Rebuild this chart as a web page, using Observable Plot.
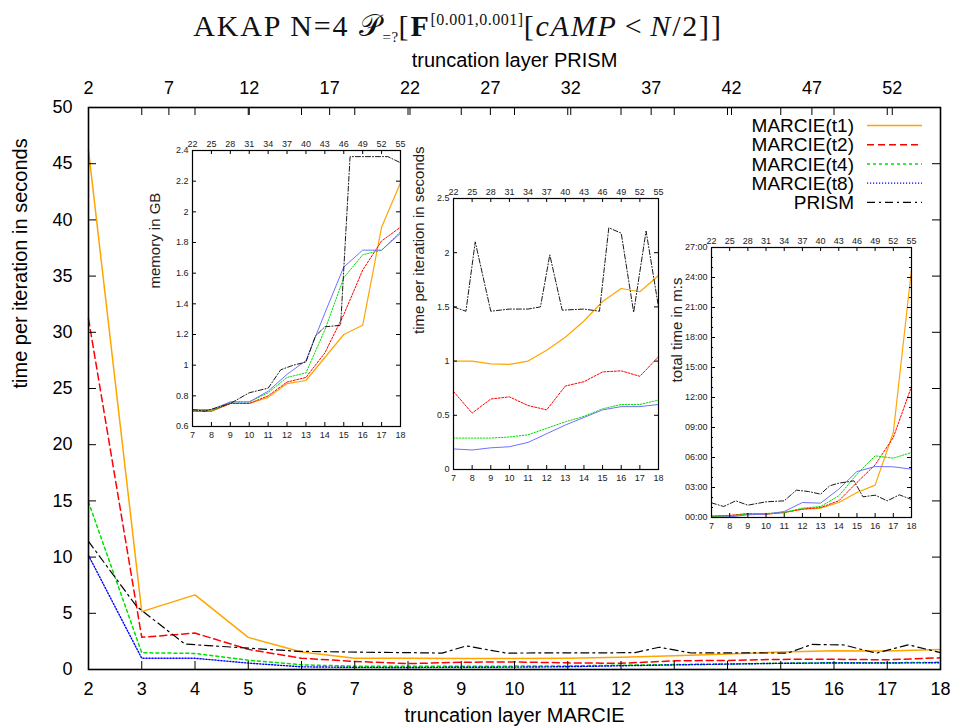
<!DOCTYPE html>
<html><head><meta charset="utf-8">
<script src="https://cdn.jsdelivr.net/npm/d3@7"></script>
<script src="https://cdn.jsdelivr.net/npm/@observablehq/plot@0.6"></script>
<style>
html,body{margin:0;padding:0;background:#fff;}
#wrap{position:relative;width:955px;height:728px;overflow:hidden;font-family:"Liberation Sans",Arial,sans-serif;background:#fff;}
#wrap > svg{position:absolute;}
#title{position:absolute;left:0;top:2px;width:916px;text-align:center;font-family:"Liberation Serif","DejaVu Serif",serif;font-size:30px;letter-spacing:1.8px;color:#111;white-space:nowrap;line-height:36px;}
#title sub{font-size:15px;vertical-align:-6px;letter-spacing:0.5px;}
#title sup{font-size:16px;vertical-align:11px;letter-spacing:0.5px;}
#title .rel{margin:0 7px;}
#title b{font-weight:bold;}
</style></head>
<body>
<div id="wrap"><div id="title">AKAP N=4 𝒫<sub>=?</sub>[<b>F</b><sup>[0.001,0.001]</sup>[<i>cAMP</i><span class="rel">&lt;</span><i>N</i>/2]]</div></div>
<script>
// ---------------- data ----------------
const series = ["MARCIE(t1)", "MARCIE(t2)", "MARCIE(t4)", "MARCIE(t8)", "PRISM"];
const marcieLayers = [2,3,4,5,6,7,8,9,10,11,12,13,14,15,16,17,18];
const mainYTicks = [0,5,10,15,20,25,30,35,40,45,50];
const prismMainTicks = [2,7,12,17,22,27,32,37,42,47,52];

// time per iteration (s), MARCIE layers 2..18
const iterT1 = [46.2, 5.15, 6.64, 2.86, 1.55, 1.0, 1.0, 0.975, 0.97, 1.0, 1.10, 1.22, 1.37, 1.55, 1.67, 1.64, 1.79];
const iterT2 = [31.2, 2.86, 3.24, 1.79, 1.0, 0.72, 0.52, 0.65, 0.67, 0.59, 0.55, 0.77, 0.81, 0.90, 0.91, 0.86, 1.04];
const iterT4 = [14.9, 1.49, 1.43, 0.83, 0.42, 0.29, 0.29, 0.29, 0.30, 0.32, 0.38, 0.44, 0.49, 0.56, 0.60, 0.60, 0.64];
const iterT8 = [10.15, 1.0, 1.0, 0.57, 0.24, 0.19, 0.18, 0.20, 0.21, 0.25, 0.33, 0.41, 0.48, 0.55, 0.58, 0.58, 0.60];
// PRISM time per iteration, PRISM layers
const prismIterLayers = [2, 5, 8, 15, 20, 22, 24, 25.5, 28, 31, 34, 36, 37.5, 39.5, 43, 45.5, 47, 49, 51, 53, 55];
const prismIter       = [11.4, 5.6, 2.26, 1.62, 1.52, 1.50, 1.46, 2.10, 1.46, 1.48, 1.48, 1.50, 1.98, 1.47, 1.48, 1.46, 2.23, 2.18, 1.45, 2.20, 1.50];

// insets: MARCIE layers 7..18
const insetYTicksMem = [0.6,0.8,1,1.2,1.4,1.6,1.8,2,2.2,2.4];
const insetYTicksIter = [0,0.5,1,1.5,2,2.5];
const insetYTicksTotal = [0,180,360,540,720,900,1080,1260,1440,1620];
const insetYMinorTotal = [60,120,240,300,420,480,600,660,780,840,960,1020,1140,1200,1320,1380,1500,1560];
const insetPrismTicks = [22,25,28,31,34,37,40,43,46,49,52,55];

// memory in GB
const memT1 = [0.70, 0.70, 0.75, 0.75, 0.79, 0.88, 0.90, 1.05, 1.20, 1.26, 1.90, 2.19];
const memT2 = [0.70, 0.70, 0.75, 0.75, 0.80, 0.89, 0.92, 1.08, 1.33, 1.62, 1.81, 1.90];
const memT4 = [0.70, 0.70, 0.76, 0.76, 0.82, 0.92, 0.95, 1.23, 1.57, 1.72, 1.75, 1.87];
const memT8 = [0.71, 0.71, 0.76, 0.76, 0.83, 0.94, 1.03, 1.34, 1.64, 1.75, 1.75, 1.86];
const prismMemLayers = [22, 24, 28, 31, 34, 36, 38, 40, 41.5, 43, 45.5, 47, 53, 55];
const prismMem       = [0.71, 0.70, 0.75, 0.82, 0.85, 0.97, 1.00, 1.02, 1.19, 1.25, 1.26, 2.36, 2.36, 2.32];

// total time in seconds
const totT1 = [8, 12, 20, 20, 30, 50, 56, 90, 150, 194, 510, 1488];
const totT2 = [8, 12, 24, 20, 30, 50, 60, 100, 210, 316, 480, 786];
const totT4 = [4, 10, 20, 24, 30, 56, 66, 130, 260, 370, 356, 390];
const totT8 = [0, 4, 16, 20, 36, 90, 86, 170, 276, 306, 304, 290];
const prismTotLayers = [22, 24, 26, 28, 31, 34, 36, 38, 40, 41.5, 43, 45.5, 47, 49, 51, 53, 55];
const prismTot       = [88, 66, 100, 74, 94, 100, 164, 156, 140, 190, 206, 220, 124, 134, 100, 136, 108];

// ---------------- styles ----------------
const FONT = '"Liberation Sans", Arial, sans-serif';
const mainStyle = [
  {stroke: "#ffa500", strokeWidth: 1.5},
  {stroke: "#ff0000", strokeWidth: 1.5, strokeDasharray: "7,4"},
  {stroke: "#00e000", strokeWidth: 1.5, strokeDasharray: "3,3"},
  {stroke: "#0000ff", strokeWidth: 1.4, strokeDasharray: "1.2,1.8"},
  {stroke: "#000000", strokeWidth: 1.2, strokeDasharray: "8,4,2,4"}
];
const insetStyle = [
  {stroke: "#ffa500", strokeWidth: 1.2},
  {stroke: "#ff0000", strokeWidth: 1, strokeDasharray: "2,1.5"},
  {stroke: "#00e000", strokeWidth: 1, strokeDasharray: "1.5,1.5"},
  {stroke: "#7070ff", strokeWidth: 1},
  {stroke: "#000000", strokeWidth: 0.9, strokeDasharray: "5,2,1,2"}
];

function rows(xs, ys, lo = -Infinity, hi = Infinity) {
  return xs.map((x, i) => ({x, y: ys[i]})).filter(d => d.x >= lo - 1e-9 && d.x <= hi + 1e-9);
}

const wrap = document.getElementById("wrap");

// ---------------- main plot ----------------
const M = {top: 107, right: 15, bottom: 59, left: 88};
const W = 955, H = 728;
const pw = W - M.left - M.right, ph = H - M.top - M.bottom;
const prismToMain = d3.scaleLinear([2, 55], [2, 18]);
const mainSeries = [iterT1, iterT2, iterT4, iterT8];

const mainPlot = Plot.plot({
  width: W, height: H,
  marginTop: M.top, marginRight: M.right, marginBottom: M.bottom, marginLeft: M.left,
  style: {fontFamily: FONT, fontSize: "18px", background: "white", color: "#000", overflow: "visible"},
  x: {domain: [2, 18]},
  y: {domain: [0, 50]},
  marks: [
    ...mainSeries.map((ys, i) => Plot.line(rows(marcieLayers, ys), {x: "x", y: "y", ...mainStyle[i]})),
    Plot.line(rows(prismIterLayers.map(p => prismToMain(p)), prismIter), {x: "x", y: "y", ...mainStyle[4]}),
    Plot.tickX(marcieLayers, {x: d => d, insetTop: ph - 8, stroke: "#000"}),
    Plot.tickX(marcieLayers, {x: d => d, insetBottom: ph - 8, stroke: "#000"}),
    Plot.tickX(prismMainTicks, {x: d => prismToMain(d), insetBottom: ph - 8, stroke: "#000"}),
    Plot.tickY(mainYTicks, {y: d => d, insetRight: pw - 8, stroke: "#000"}),
    Plot.tickY(mainYTicks, {y: d => d, insetLeft: pw - 8, stroke: "#000"}),
    Plot.axisX(marcieLayers, {anchor: "bottom", tickSize: 0, tickPadding: 13, label: null, fontSize: 18}),
    Plot.axisX(prismMainTicks.map(p => prismToMain(p)), {anchor: "top", tickSize: 0, tickPadding: 14, label: null, fontSize: 18,
      tickFormat: d => String(Math.round(prismToMain.invert(d)))}),
    Plot.axisY(mainYTicks, {anchor: "left", tickSize: 0, tickPadding: 16, label: null, fontSize: 18}),
    Plot.frame({stroke: "#000", strokeWidth: 1.6}),
    Plot.text(["truncation layer MARCIE"], {frameAnchor: "bottom", dy: 52, fontSize: 20}),
    Plot.text(["truncation layer PRISM"], {frameAnchor: "top", dy: -55, fontSize: 20}),
    Plot.text(["time per iteration in seconds"], {frameAnchor: "left", dx: -68, rotate: -90, fontSize: 20})
  ]
});
mainPlot.style.left = "0px"; mainPlot.style.top = "0px";
wrap.insertBefore(mainPlot, wrap.firstChild);

// ---------------- insets ----------------
const insetLayers = marcieLayers.filter(m => m >= 7);
const p2m = d3.scaleLinear([22, 55], [7, 18]);

function inset(cfg) {
  const m = cfg.margin;
  const iw = cfg.width - m.left - m.right, ih = cfg.height - m.top - m.bottom;
  const marks = [
    ...cfg.marcie.map((ys, i) => Plot.line(rows(cfg.layers, ys, 7, 18), {x: "x", y: "y", ...insetStyle[i]})),
    Plot.line(rows(cfg.prismLayers.map(p => p2m(p)), cfg.prism, 7, 18), {x: "x", y: "y", ...insetStyle[4]}),
    Plot.tickX(insetLayers, {x: d => d, insetTop: ih - 4, stroke: "#000"}),
    Plot.tickX(insetPrismTicks, {x: d => p2m(d), insetBottom: ih - 4, stroke: "#000"}),
    Plot.tickY(cfg.yTicks, {y: d => d, insetRight: iw - 4, stroke: "#000"}),
    Plot.tickY(cfg.yTicks, {y: d => d, insetLeft: iw - 4, stroke: "#000"}),
    Plot.axisX(insetLayers, {anchor: "bottom", tickSize: 0, tickPadding: 5, label: null, fontSize: 9}),
    Plot.axisX(insetPrismTicks.map(p => p2m(p)), {anchor: "top", tickSize: 0, tickPadding: 4, label: null, fontSize: 9,
      tickFormat: d => String(Math.round(p2m.invert(d)))}),
    Plot.axisY(cfg.yTicks, {anchor: "left", tickSize: 0, tickPadding: 4, label: null, fontSize: 9, tickFormat: cfg.yFormat}),
    Plot.frame({stroke: "#000", strokeWidth: 1.2}),
    Plot.text([cfg.label], {frameAnchor: "left", dx: cfg.labelDx, rotate: -90, fontSize: 15})
  ];
  if (cfg.yMinor) {
    marks.push(Plot.tickY(cfg.yMinor, {y: d => d, insetRight: iw - 2, stroke: "#000"}));
    marks.push(Plot.tickY(cfg.yMinor, {y: d => d, insetLeft: iw - 2, stroke: "#000"}));
  }
  const svg = Plot.plot({
    width: cfg.width, height: cfg.height,
    marginTop: m.top, marginRight: m.right, marginBottom: m.bottom, marginLeft: m.left,
    style: {fontFamily: FONT, fontSize: "9px", background: "transparent", color: "#222", overflow: "visible"},
    x: {domain: [7, 18]},
    y: {domain: cfg.yDomain},
    marks
  });
  svg.style.left = cfg.left + "px";
  svg.style.top = cfg.top + "px";
  wrap.appendChild(svg);
}

const mmss = d => String(Math.floor(d / 60)).padStart(2, "0") + ":" + String(d % 60).padStart(2, "0");

inset({left: 140, top: 130, width: 265, height: 312, margin: {top: 20, right: 5, bottom: 16, left: 52},
  layers: insetLayers, marcie: [memT1, memT2, memT4, memT8], prismLayers: prismMemLayers, prism: prismMem,
  yDomain: [0.6, 2.4], yTicks: insetYTicksMem, yFormat: d => String(d), label: "memory in GB", labelDx: -37});

inset({left: 405, top: 178, width: 258, height: 306, margin: {top: 20, right: 5, bottom: 15, left: 48},
  layers: insetLayers, marcie: [iterT1, iterT2, iterT4, iterT8].map(a => a.slice(5)),
  prismLayers: prismIterLayers, prism: prismIter,
  yDomain: [0, 2.5], yTicks: insetYTicksIter, yFormat: d => String(d), label: "time per iteration in seconds", labelDx: -34});

inset({left: 655, top: 227, width: 261, height: 306, margin: {top: 20, right: 5, bottom: 16, left: 56},
  layers: insetLayers, marcie: [totT1, totT2, totT4, totT8], prismLayers: prismTotLayers, prism: prismTot,
  yDomain: [0, 1620], yTicks: insetYTicksTotal, yMinor: insetYMinorTotal, yFormat: mmss,
  label: "total time in m:s", labelDx: -34});

// ---------------- legend ----------------
const leg = d3.select(wrap).append("svg")
  .attr("width", W).attr("height", H)
  .style("left", "0px").style("top", "0px").style("position", "absolute")
  .style("font-family", FONT);
series.forEach((name, i) => {
  const y = 125.5 + i * 19.2;
  leg.append("text").attr("x", 854).attr("y", y).attr("dy", "0.35em")
    .attr("text-anchor", "end").attr("font-size", 19).attr("fill", "#000").text(name);
  const st = mainStyle[i];
  leg.append("line").attr("x1", 867).attr("x2", 922).attr("y1", y).attr("y2", y)
    .attr("stroke", st.stroke).attr("stroke-width", st.strokeWidth)
    .attr("stroke-dasharray", st.strokeDasharray || null);
});
</script>
</body></html>
